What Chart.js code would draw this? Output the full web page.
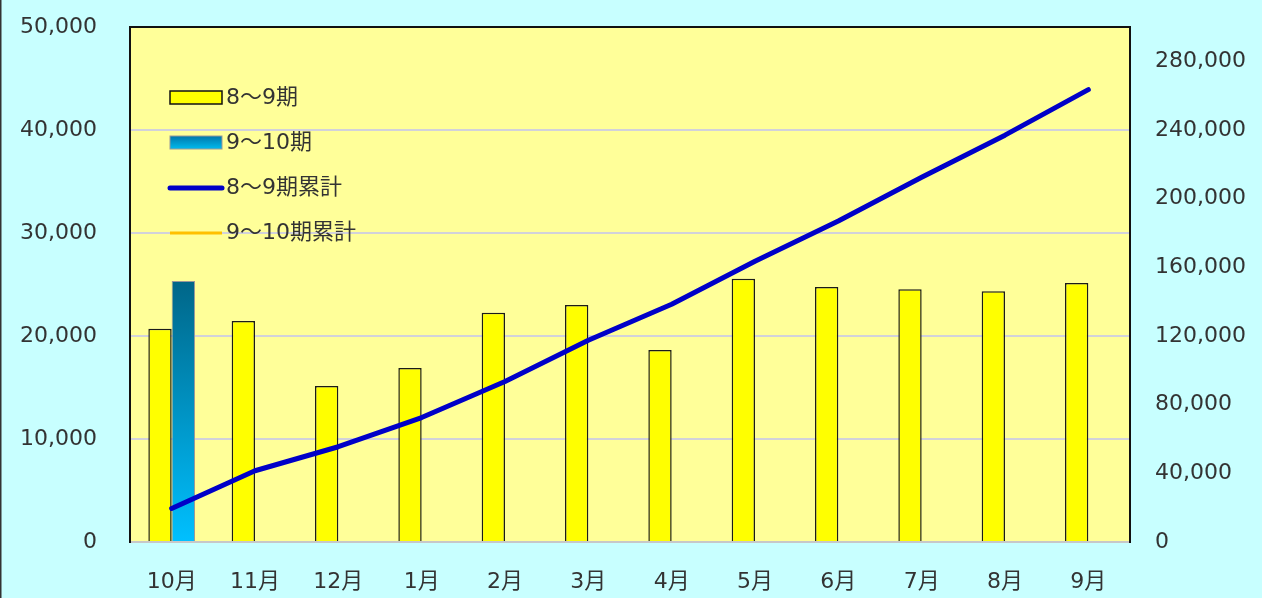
<!DOCTYPE html>
<html>
<head>
<meta charset="utf-8">
<script src="https://cdn.jsdelivr.net/npm/chart.js@4"></script>
<style>
html,body{margin:0;padding:0;background:#C8FFFF;}
#wrap{width:1262px;height:598px;position:relative;}
</style>
</head>
<body>
<div id="wrap"><canvas id="c" width="1262" height="598"></canvas></div>
<script>
const categories = ['10月','11月','12月','1月','2月','3月','4月','5月','6月','7月','8月','9月'];
const series89 = [20700, 21450, 15150, 16900, 22250, 23000, 18650, 25550, 24750, 24550, 24350, 25150];
const series910 = [25350, null, null, null, null, null, null, null, null, null, null, null];
const cum89 = [19500, 41500, 55500, 72500, 93500, 117500, 138500, 163500, 187000, 212500, 237000, 263500];
const cum910 = [25350, null, null, null, null, null, null, null, null, null, null, null];
const leftTicks = [0, 10000, 20000, 30000, 40000, 50000];
const rightTicks = [0, 40000, 80000, 120000, 160000, 200000, 240000, 280000, 320000];
const legendLabels = ['8～9期', '9～10期', '8～9期累計', '9～10期累計'];

const FONT = '"DejaVu Sans", "Noto Sans CJK JP", sans-serif';
const fmt = v => v.toLocaleString('en-US');

const bgPlugin = {
  id: 'bgPlugin',
  beforeDraw(chart) {
    const {ctx, chartArea: a} = chart;
    ctx.save();
    ctx.fillStyle = '#C8FFFF';
    ctx.fillRect(0, 0, chart.width, chart.height);
    ctx.fillStyle = '#FFFF99';
    ctx.fillRect(a.left, a.top, a.right - a.left, a.bottom - a.top);
    ctx.restore();
  },
  afterDraw(chart) {
    const {ctx, chartArea: a} = chart;
    ctx.save();
    ctx.strokeStyle = '#111';
    ctx.lineWidth = 2;
    ctx.beginPath();
    ctx.moveTo(a.left, a.top);
    ctx.lineTo(a.right, a.top);
    ctx.stroke();
    ctx.fillStyle = '#333';
    ctx.fillRect(0, 0, 1.5, chart.height);
    const x0 = a.left + 40, sw = 52, tx = x0 + sw + 4;
    const ys = [98, 143, 188, 233];
    ctx.font = '22px ' + FONT;
    ctx.textBaseline = 'middle';
    ctx.textAlign = 'left';
    ctx.fillStyle = '#FFFF00';
    ctx.fillRect(x0, ys[0] - 7, sw, 13);
    ctx.strokeStyle = '#111'; ctx.lineWidth = 1.5;
    ctx.strokeRect(x0, ys[0] - 7, sw, 13);
    const g = ctx.createLinearGradient(0, ys[1] - 7, 0, ys[1] + 6);
    g.addColorStop(0, '#0077AA'); g.addColorStop(1, '#00BBEE');
    ctx.fillStyle = g;
    ctx.fillRect(x0, ys[1] - 7, sw, 13);
    ctx.strokeStyle = '#999'; ctx.lineWidth = 1;
    ctx.strokeRect(x0, ys[1] - 7, sw, 13);
    ctx.lineCap = 'round';
    ctx.strokeStyle = '#0000C8'; ctx.lineWidth = 5;
    ctx.beginPath(); ctx.moveTo(x0, ys[2]); ctx.lineTo(x0 + sw, ys[2]); ctx.stroke();
    ctx.lineCap = 'butt';
    ctx.strokeStyle = '#FFC000'; ctx.lineWidth = 3;
    ctx.beginPath(); ctx.moveTo(x0, ys[3]); ctx.lineTo(x0 + sw, ys[3]); ctx.stroke();
    ctx.fillStyle = '#333';
    legendLabels.forEach((t, i) => ctx.fillText(t, tx, ys[i]));
    ctx.restore();
  }
};

const blueGrad = (c) => {
  const chart = c.chart;
  const a = chart.chartArea;
  if (!a) return '#0099CC';
  const top = chart.scales.y.getPixelForValue(25350);
  const g = chart.ctx.createLinearGradient(0, top, 0, a.bottom);
  g.addColorStop(0, '#006688');
  g.addColorStop(1, '#00C0FF');
  return g;
};

const noPad = s => { s.paddingTop = 0; s.paddingBottom = 0; s.paddingLeft = 0; s.paddingRight = 0; };

new Chart(document.getElementById('c'), {
  data: {
    labels: categories,
    datasets: [
      { type: 'line', label: legendLabels[2], data: cum89, yAxisID: 'y1', borderColor: '#0000C8', borderWidth: 5, pointRadius: 0, tension: 0, borderCapStyle: 'round', borderJoinStyle: 'round', order: 0 },
      { type: 'line', label: legendLabels[3], data: cum910, yAxisID: 'y1', borderColor: '#FFC000', borderWidth: 3, pointRadius: 0, order: 0 },
      { type: 'bar', label: legendLabels[0], data: series89, yAxisID: 'y', backgroundColor: '#FFFF00', borderColor: '#1a1a1a', borderWidth: 1.5, order: 1 },
      { type: 'bar', label: legendLabels[1], data: series910, yAxisID: 'y', backgroundColor: blueGrad, borderColor: '#999', borderWidth: 1, order: 1 }
    ]
  },
  options: {
    responsive: false,
    animation: false,
    layout: { padding: { top: 27, left: 0, right: 0, bottom: 0 } },
    plugins: { legend: { display: false }, tooltip: { enabled: false } },
    datasets: { bar: { categoryPercentage: 0.56, barPercentage: 1.0 } },
    scales: {
      x: {
        offset: true,
        grid: { display: false, drawTicks: false },
        border: { display: true, color: '#C8C8C8', width: 2 },
        ticks: { color: '#333', font: { family: FONT, size: 22 }, padding: 27, maxRotation: 0 },
        afterFit(s) { s.height = 56; noPad(s); }
      },
      y: {
        position: 'left',
        min: 0, max: 50000,
        afterBuildTicks(s) { s.ticks = leftTicks.map(v => ({ value: v })); },
        grid: { color: '#D2D2DA', lineWidth: 2, drawTicks: false },
        border: { display: true, color: '#111', width: 2 },
        ticks: { color: '#333', font: { family: FONT, size: 22 }, padding: 33, callback: v => fmt(v) },
        afterFit(s) { s.width = 130; noPad(s); }
      },
      y1: {
        position: 'right',
        min: 0, max: 300000,
        afterBuildTicks(s) { s.ticks = rightTicks.map(v => ({ value: v })); },
        grid: { display: false, drawTicks: false },
        border: { display: true, color: '#111', width: 2 },
        ticks: { color: '#333', font: { family: FONT, size: 22 }, padding: 25, callback: v => fmt(v) },
        afterFit(s) { s.width = 132; noPad(s); }
      }
    }
  },
  plugins: [bgPlugin]
});
</script>
</body>
</html>
